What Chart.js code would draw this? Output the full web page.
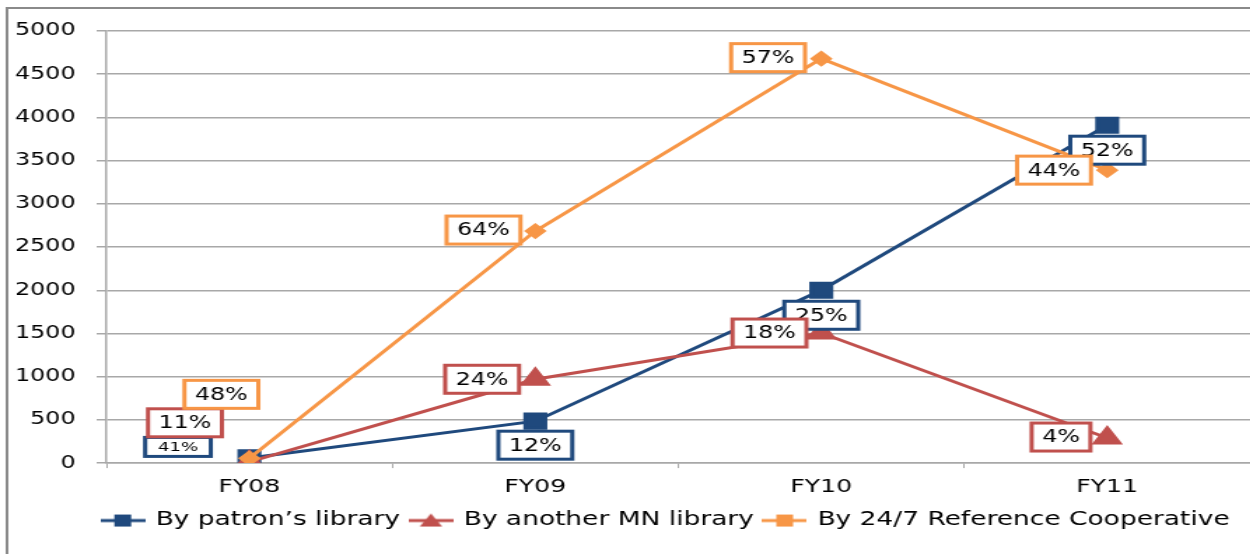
<!DOCTYPE html>
<html>
<head>
<meta charset="utf-8">
<script src="https://cdn.jsdelivr.net/npm/chart.js@4.4.1/dist/chart.umd.min.js"></script>
<style>
  html, body { margin: 0; padding: 0; background: #fff; }
  #wrap { width: 1250px; height: 554px; overflow: hidden; position: relative; }
  /* the source picture is stretched sideways, so draw narrow and widen it */
  #chart { transform: scaleX(1.4); transform-origin: 0 0; }
</style>
</head>
<body>
<div id="wrap">
  <canvas id="chart" width="893" height="554"></canvas>
</div>
<script>
const years = ["FY08", "FY09", "FY10", "FY11"];
const patronLibrary = [60, 485, 2000, 3910];
const otherMnLibrary = [15, 970, 1505, 290];
const cooperative = [55, 2685, 4680, 3390];
const patronPct = ["41%", "12%", "25%", "52%"];
const otherMnPct = ["11%", "24%", "18%", "4%"];
const cooperativePct = ["48%", "64%", "57%", "44%"];

const BLUE = "#1F497D";
const RED = "#C0504D";
const ORANGE = "#F79646";
const FONT = '"DejaVu Sans", Verdana, sans-serif';

// small line+marker pictures for the legend
function legendIcon(color, shape) {
  const c = document.createElement("canvas");
  c.width = 32;
  c.height = 16;
  const ctx = c.getContext("2d");
  ctx.strokeStyle = color;
  ctx.lineWidth = 3;
  ctx.beginPath();
  ctx.moveTo(0, 8);
  ctx.lineTo(32, 8);
  ctx.stroke();
  ctx.fillStyle = color;
  if (shape === "triangle") {
    ctx.beginPath();
    ctx.moveTo(16, 1);
    ctx.lineTo(24, 14);
    ctx.lineTo(8, 14);
    ctx.closePath();
    ctx.fill();
  } else {
    ctx.fillRect(10, 2, 12, 12);
  }
  return c;
}

const boxLabels = {
  id: "boxLabels",
  afterDatasetsDraw(chart) {
    const ctx = chart.ctx;
    ctx.save();
    chart.data.datasets.forEach((ds, i) => {
      const meta = chart.getDatasetMeta(i);
      meta.data.forEach((pt, j) => {
        const off = ds.labelOffsets[j];
        const size = (ds.labelSizes && ds.labelSizes[j]) || 17;
        const text = ds.pctLabels[j];
        ctx.font = size + "px " + FONT;
        const w = ctx.measureText(text).width + (size <= 13 ? 18 : 15);
        const h = size <= 13 ? 19 : 28;
        const x = pt.x + off[0];
        const y = pt.y + off[1];
        ctx.fillStyle = "#fff";
        ctx.fillRect(x - w / 2, y - h / 2, w, h);
        ctx.lineWidth = 3;
        ctx.strokeStyle = ds.borderColor;
        ctx.strokeRect(x - w / 2, y - h / 2, w, h);
        ctx.fillStyle = "#000";
        ctx.textAlign = "center";
        ctx.textBaseline = "middle";
        ctx.fillText(text, x, y + 1);
      });
    });
    ctx.restore();
  },
};

const frame = {
  id: "frame",
  beforeDraw(chart) {
    const ctx = chart.ctx;
    ctx.save();
    ctx.strokeStyle = "#8a8a8a";
    ctx.lineWidth = 2;
    ctx.strokeRect(5, 8, 2000, 2000);
    ctx.restore();
  },
  // legend sits centred under the plot, not under the whole canvas
  afterLayout(chart) {
    chart.legend.left += 28;
    chart.legend.right += 28;
  },
};

const chart = new Chart(document.getElementById("chart"), {
  type: "line",
  data: {
    labels: years,
    datasets: [
      {
        label: "By patron\u2019s library",
        data: patronLibrary,
        pctLabels: patronPct,
        labelOffsets: [[-51, -11], [0, 24], [0, 25], [0, 25]],
        labelSizes: [13, 17, 17, 17],
        borderColor: BLUE,
        backgroundColor: BLUE,
        borderWidth: 3,
        pointStyle: "rect",
        pointRadius: 10,
        order: 3,
      },
      {
        label: "By another MN library",
        data: otherMnLibrary,
        pctLabels: otherMnPct,
        labelOffsets: [[-46, -39], [-38, 0], [-37, 0], [-33, -1]],
        borderColor: RED,
        backgroundColor: RED,
        borderWidth: 3,
        pointStyle: "triangle",
        pointRadius: 10,
        order: 2,
      },
      {
        label: "By 24/7 Reference Cooperative",
        data: cooperative,
        pctLabels: cooperativePct,
        labelOffsets: [[-20, -64], [-37, -1], [-38, -1], [-38, 0]],
        borderColor: ORANGE,
        backgroundColor: ORANGE,
        borderWidth: 3,
        pointStyle: "rectRot",
        pointRadius: 6,
        order: 1,
      },
    ],
  },
  options: {
    responsive: false,
    animation: false,
    devicePixelRatio: 1,
    layout: { autoPadding: false, padding: { top: 31, left: 3, right: 0, bottom: 14 } },
    elements: { line: { tension: 0 } },
    scales: {
      y: {
        min: 0,
        max: 5000,
        afterFit(scale) {
          scale.width = 73;
        },
        ticks: {
          stepSize: 500,
          color: "#000",
          padding: 15,
          font: { family: FONT, size: 17 },
          callback: (v) => String(v),
        },
        grid: { color: "#a8a8a8", tickLength: 7, lineWidth: 1.5 },
        border: { color: "#a8a8a8", width: 1.5 },
      },
      x: {
        offset: true,
        afterFit(scale) {
          scale.height = 40;
          scale.paddingLeft = 0;
          scale.paddingRight = 0;
        },
        ticks: {
          color: "#000",
          padding: 8,
          font: { family: FONT, size: 18 },
        },
        grid: {
          offset: true,
          drawOnChartArea: false,
          tickLength: 5,
          color: "#a8a8a8",
        },
        border: { color: "#a8a8a8", width: 1.5 },
      },
    },
    plugins: {
      tooltip: { enabled: false },
      legend: {
        position: "bottom",
        labels: {
          color: "#000",
          usePointStyle: true,
          pointStyleWidth: 28,
          padding: 8,
          font: { family: FONT, size: 18.9 },
          generateLabels(chart) {
            const icons = [
              legendIcon(BLUE, "rect"),
              legendIcon(RED, "triangle"),
              legendIcon(ORANGE, "rect"),
            ];
            return chart.data.datasets.map((ds, i) => ({
              text: ds.label,
              pointStyle: icons[i],
              fillStyle: ds.backgroundColor,
              strokeStyle: ds.borderColor,
              lineWidth: 0,
              datasetIndex: i,
              hidden: false,
            }));
          },
        },
      },
    },
  },
  plugins: [frame, boxLabels],
});
</script>
</body>
</html>
